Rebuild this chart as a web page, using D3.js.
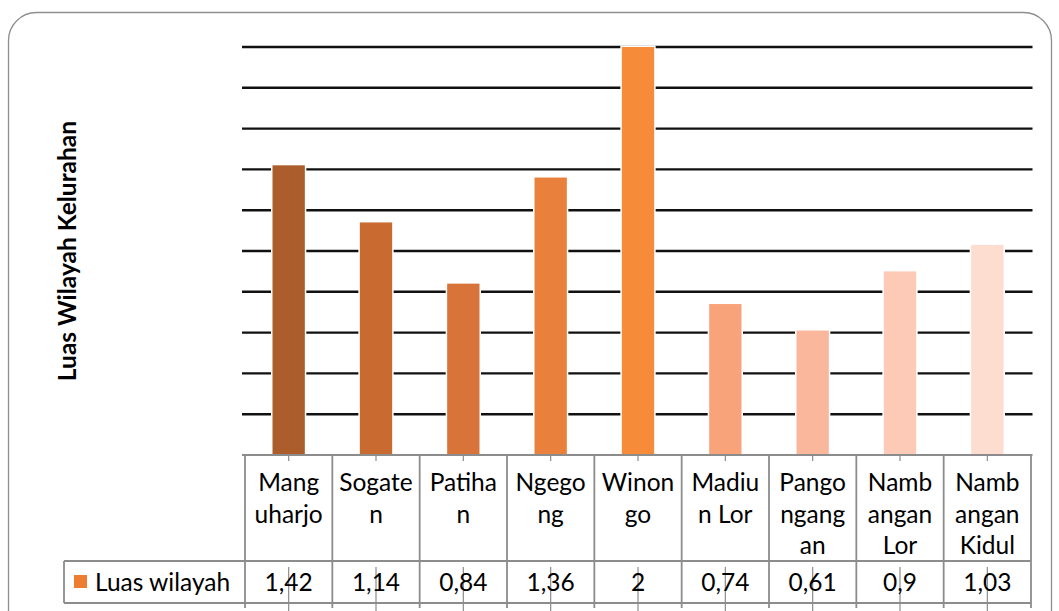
<!DOCTYPE html>
<html>
<head>
<meta charset="utf-8">
<script src="https://cdn.jsdelivr.net/npm/d3@7"></script>
<style>
  html, body { margin: 0; padding: 0; background: #fff; }
  svg { display: block; }
  text { font-family: Lato, "Open Sans", sans-serif; fill: #000; }
</style>
</head>
<body>
<svg id="chart" width="1059" height="611"></svg>
<script>
// Kelurahan names, split into the lines shown in each table header cell
const categories = [
  ["Mang", "uharjo"],
  ["Sogate", "n"],
  ["Patiha", "n"],
  ["Ngego", "ng"],
  ["Winon", "go"],
  ["Madiu", "n Lor"],
  ["Pango", "ngang", "an"],
  ["Namb", "angan", "Lor"],
  ["Namb", "angan", "Kidul"]
];
const luasWilayah = [1.42, 1.14, 0.84, 1.36, 2, 0.74, 0.61, 0.9, 1.03];
const valueLabels = ["1,42", "1,14", "0,84", "1,36", "2", "0,74", "0,61", "0,9", "1,03"];
const barColors = ["#AB5D2B", "#C96B31", "#D8733A", "#E9803B", "#F68B39",
                   "#F9A37B", "#FAB79C", "#FCCAB6", "#FDDDCF"];
const gridTicks = [0.2, 0.4, 0.6, 0.8, 1.0, 1.2, 1.4, 1.6, 1.8, 2.0];
const seriesName = "Luas wilayah";
const axisTitle = "Luas Wilayah Kelurahan";

const svg = d3.select("#chart");

// outer frame with rounded corners
svg.append("rect")
  .attr("x", 8.5).attr("y", 12.5)
  .attr("width", 1043).attr("height", 640)
  .attr("rx", 28).attr("ry", 28)
  .attr("fill", "none").attr("stroke", "#8f8f8f").attr("stroke-width", 1.3);

const plotLeft = 245, plotRight = 1031, plotTop = 47, plotBottom = 455;
const headerBottom = 561, valueBottom = 603, tableEnd = 608;
const cellFont = 24.5;

const x = d3.scaleBand()
  .domain(d3.range(categories.length))
  .range([plotLeft, plotRight])
  .paddingInner(0.63).paddingOuter(0.315);

const y = d3.scaleLinear().domain([0, 2]).range([plotBottom, plotTop]);

const xCenter = i => x(i) + x.bandwidth() / 2;

// horizontal gridlines
svg.append("g").selectAll("line").data(gridTicks).join("line")
  .attr("x1", 242).attr("x2", 1032.5)
  .attr("y1", d => y(d)).attr("y2", d => y(d))
  .attr("stroke", "#111").attr("stroke-width", 2.4);

// white outline around each bar, breaking the gridlines
svg.append("g").selectAll("rect").data(luasWilayah).join("rect")
  .attr("x", (d, i) => x(i))
  .attr("y", d => y(d))
  .attr("width", x.bandwidth())
  .attr("height", d => y(0) - y(d))
  .attr("fill", "#fff")
  .attr("stroke", "#fff").attr("stroke-width", 3);

// bars
svg.append("g").selectAll("rect").data(luasWilayah).join("rect")
  .attr("x", (d, i) => x(i))
  .attr("y", d => y(d))
  .attr("width", x.bandwidth())
  .attr("height", d => y(0) - y(d))
  .attr("fill", (d, i) => barColors[i]);

const tableStroke = "#8c8c8c";
const tbl = svg.append("g").attr("stroke", tableStroke).attr("stroke-width", 1.8);

// category axis line and table horizontal rules
tbl.append("line").attr("x1", 242).attr("x2", 1032.5).attr("y1", plotBottom).attr("y2", plotBottom);
tbl.append("line").attr("x1", 64).attr("x2", plotRight).attr("y1", headerBottom).attr("y2", headerBottom);
tbl.append("line").attr("x1", 64).attr("x2", plotRight).attr("y1", valueBottom).attr("y2", valueBottom);
tbl.append("line").attr("x1", 64).attr("x2", 64).attr("y1", headerBottom).attr("y2", valueBottom);

// column separators
const edges = d3.range(categories.length + 1).map(i => plotLeft + i * x.step());
tbl.selectAll(".sep").data(edges).join("line").attr("class", "sep")
  .attr("x1", d => d).attr("x2", d => d)
  .attr("y1", plotBottom).attr("y2", tableEnd);

// category tick marks at the column centres
const ticks = svg.append("g").attr("stroke", tableStroke).attr("stroke-width", 1.2);
ticks.selectAll(".t1").data(categories).join("line").attr("class", "t1")
  .attr("x1", (d, i) => xCenter(i)).attr("x2", (d, i) => xCenter(i))
  .attr("y1", plotBottom).attr("y2", plotBottom + 6);
ticks.selectAll(".t2").data(categories).join("line").attr("class", "t2")
  .attr("x1", (d, i) => xCenter(i)).attr("x2", (d, i) => xCenter(i))
  .attr("y1", headerBottom + 6).attr("y2", 611);

// header cell labels
const lineGap = 31.5;
svg.append("g").selectAll("text").data(categories).join("text")
  .attr("text-anchor", "middle")
  .attr("font-size", cellFont)
  .each(function (lines, i) {
    d3.select(this).selectAll("tspan").data(lines).join("tspan")
      .attr("x", xCenter(i))
      .attr("y", (l, k) => 491 + k * lineGap)
      .text(l => l);
  });

// value row
svg.append("g").selectAll("text").data(valueLabels).join("text")
  .attr("x", (d, i) => xCenter(i)).attr("y", 591)
  .attr("text-anchor", "middle").attr("font-size", cellFont)
  .text(d => d);

// legend cell
svg.append("rect").attr("x", 74).attr("y", 575).attr("width", 13).attr("height", 13)
  .attr("fill", "#ED7D31");
svg.append("text").attr("x", 95).attr("y", 591).attr("font-size", cellFont).text(seriesName);

// vertical axis title
svg.append("text")
  .attr("transform", `translate(76, ${(plotTop + plotBottom) / 2}) rotate(-90)`)
  .attr("text-anchor", "middle")
  .attr("font-size", 24.5).attr("font-weight", "bold")
  .text(axisTitle);
</script>
</body>
</html>
